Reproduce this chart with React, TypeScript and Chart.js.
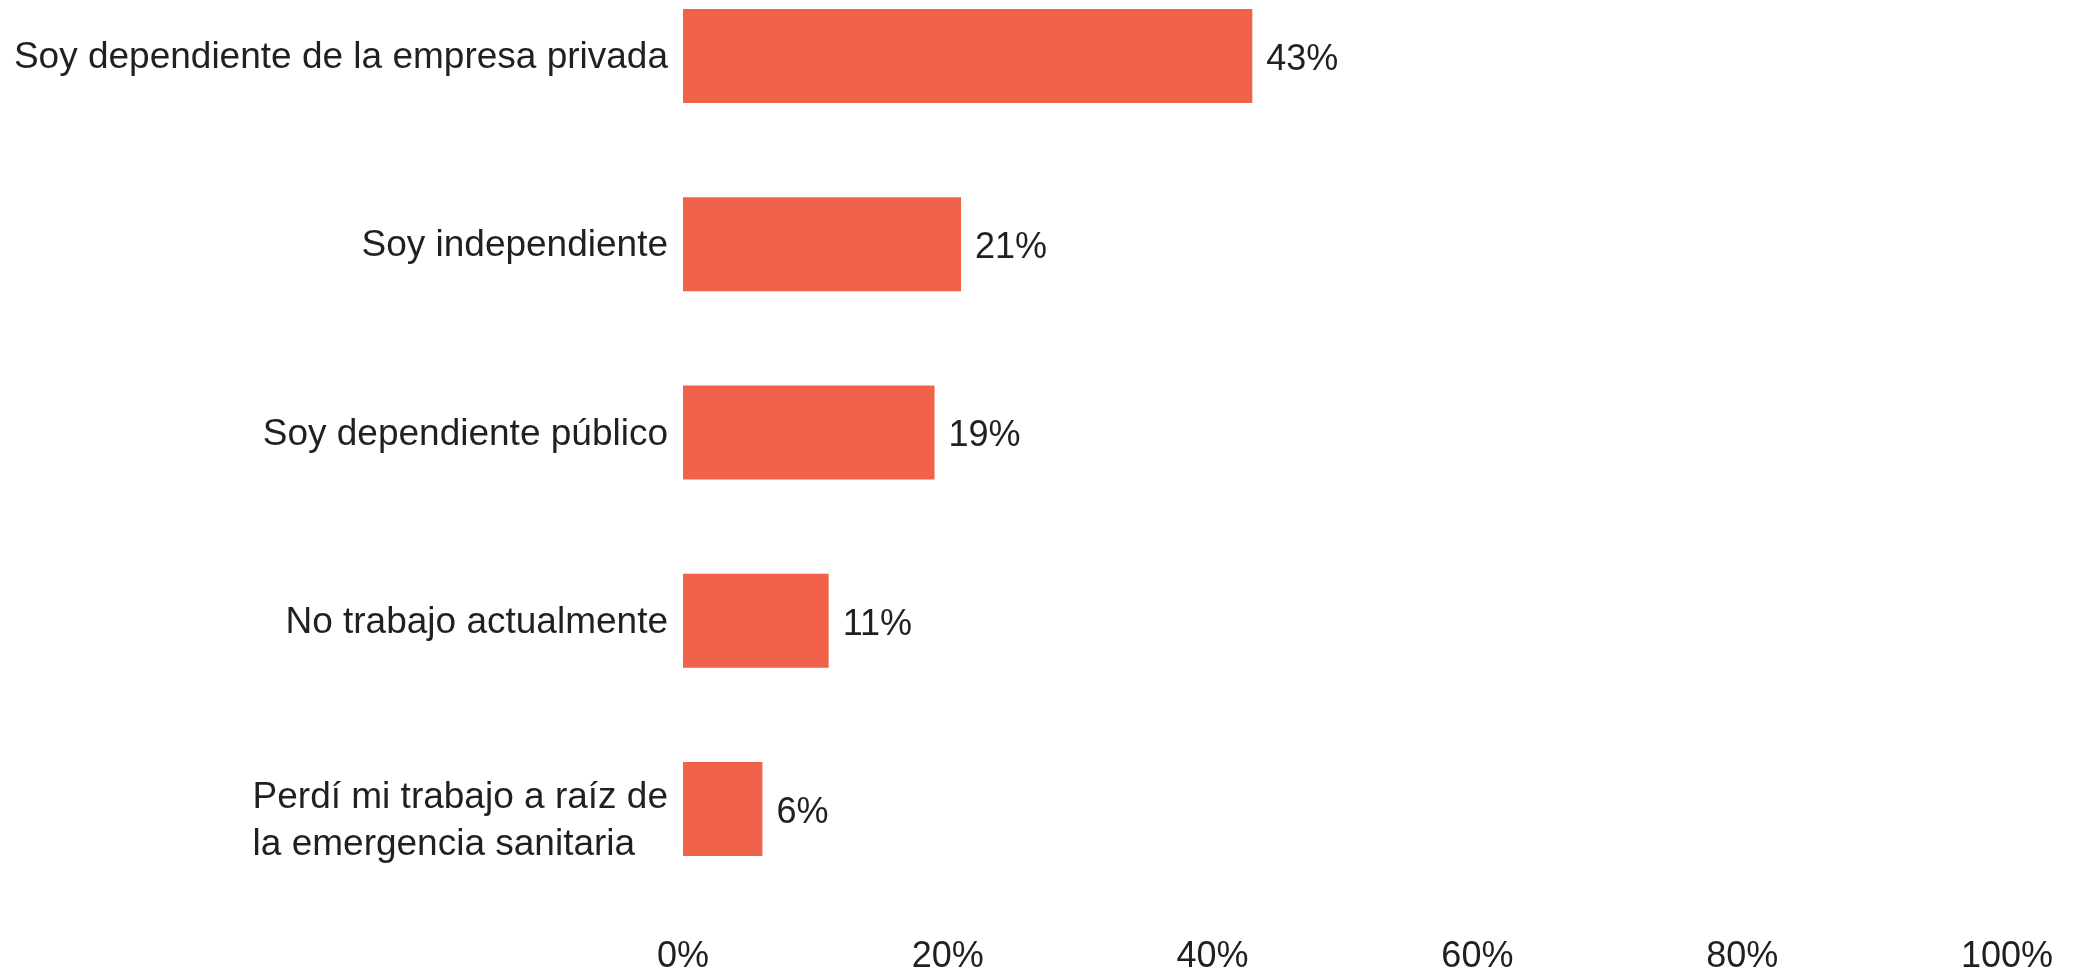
import React, { useEffect, useRef } from "react";
import { Chart, registerables } from "chart.js";

Chart.register(...registerables);

const categories: (string | string[])[] = [
  "Soy dependiente de la empresa privada",
  "Soy independiente",
  "Soy dependiente público",
  "No trabajo actualmente",
  ["Perdí mi trabajo a raíz de", "la emergencia sanitaria"],
];
const values = [43, 21, 19, 11, 6];
const valueLabels = ["43%", "21%", "19%", "11%", "6%"];
const xMin = 0;
const xMax = 100;
const xStep = 20;

const BAR_COLOR = "#F0624A";
const TEXT_COLOR = "#231F20";
const FONT_FAMILY = "'Liberation Sans', Arial, Helvetica, sans-serif";
const LABEL_FONT_SIZE = 37;
const TICK_FONT_SIZE = 36;

const labelPlugin = {
  id: "customLabels",
  afterDatasetsDraw(chart: any) {
    const ctx = chart.ctx as CanvasRenderingContext2D;
    const yScale = chart.scales.y;
    const meta = chart.getDatasetMeta(0);
    const area = chart.chartArea;
    ctx.save();
    ctx.fillStyle = TEXT_COLOR;
    ctx.textBaseline = "middle";
    // value labels
    ctx.font = `${TICK_FONT_SIZE}px ${FONT_FAMILY}`;
    ctx.textAlign = "left";
    meta.data.forEach((bar: any, i: number) => {
      ctx.fillText(valueLabels[i], bar.x + 14, bar.y + 4);
    });
    // category labels
    ctx.font = `${LABEL_FONT_SIZE}px ${FONT_FAMILY}`;
    categories.forEach((lab, i) => {
      const lines = Array.isArray(lab) ? lab : [lab];
      const widths = lines.map((l) => ctx.measureText(l).width);
      const maxW = Math.max(...widths);
      const x0 = area.left - 15 - maxW;
      const lineH = 47;
      const cy = yScale.getPixelForValue(i) + (lines.length > 1 ? 12 : 2);
      const startY = cy - ((lines.length - 1) * lineH) / 2;
      lines.forEach((l, j) => {
        ctx.fillText(l, x0, startY + j * lineH);
      });
    });
    ctx.restore();
  },
};

export default function App() {
  const canvasRef = useRef<HTMLCanvasElement | null>(null);

  useEffect(() => {
    document.body.style.margin = "0";
    const canvas = canvasRef.current;
    if (!canvas) return;
    const chart = new Chart(canvas, {
      type: "bar",
      data: {
        labels: categories as any,
        datasets: [
          {
            data: values,
            backgroundColor: BAR_COLOR,
            borderWidth: 0,
            barPercentage: 0.5,
            categoryPercentage: 1,
            clip: false as any,
          },
        ],
      },
      options: {
        indexAxis: "y",
        animation: false,
        responsive: false,
        devicePixelRatio: 1,
        layout: { padding: { top: 56, right: 67, bottom: 0, left: 0 } },
        plugins: {
          legend: { display: false },
          tooltip: { enabled: false },
        },
        scales: {
          y: {
            type: "category",
            offset: false,
            grid: { display: false },
            border: { display: false },
            ticks: { display: false },
            afterFit: (scale: any) => {
              scale.width = 683;
              scale.paddingTop = 0;
              scale.paddingBottom = 0;
            },
          },
          x: {
            type: "linear",
            min: xMin,
            max: xMax,
            grid: { display: false },
            border: { display: false },
            ticks: {
              stepSize: xStep,
              padding: 118,
              color: TEXT_COLOR,
              font: { family: FONT_FAMILY, size: TICK_FONT_SIZE },
              callback: (v: any) => `${v}%`,
            },
            afterFit: (scale: any) => {
              scale.height = 161;
              scale.paddingLeft = 0;
              scale.paddingRight = 0;
            },
          },
        },
      },
      plugins: [labelPlugin],
    });
    return () => chart.destroy();
  }, []);

  return (
    <div style={{ width: 2074, height: 970, background: "#ffffff" }}>
      <canvas ref={canvasRef} width={2074} height={970} style={{ display: "block" }} />
    </div>
  );
}
